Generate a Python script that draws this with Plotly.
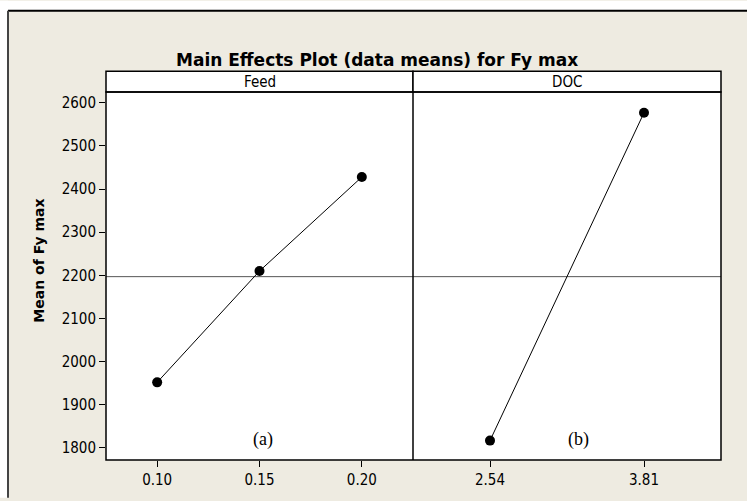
import plotly.graph_objects as go

# ---- data ----
feed_levels = ["0.10", "0.15", "0.20"]
feed_means = [1952, 2210, 2428]
doc_levels = ["2.54", "3.81"]
doc_means = [1817, 2577]
grand_mean = 2197
y_ticks = [1800, 1900, 2000, 2100, 2200, 2300, 2400, 2500, 2600]
panel_titles = ["Feed", "DOC"]
panel_tags = ["(a)", "(b)"]

W, H = 747, 501
L, R, T, B = 106, 721, 92, 463
pw, ph = R - L, B - T
split = 413
xs = (split - L) / pw

def px(x):
    return (x - L) / pw

def py(y):
    return (B - y) / ph

BG = "#EEEBE1"
FONT = "DejaVu Sans Condensed, Liberation Sans"

fig = go.Figure()
fig.add_trace(go.Scatter(
    x=list(range(len(feed_levels))), y=feed_means, mode="lines+markers",
    line=dict(color="black", width=1), marker=dict(color="black", size=10),
    xaxis="x", yaxis="y", showlegend=False))
fig.add_trace(go.Scatter(
    x=list(range(len(doc_levels))), y=doc_means, mode="lines+markers",
    line=dict(color="black", width=1), marker=dict(color="black", size=10),
    xaxis="x2", yaxis="y", showlegend=False))

axis_common = dict(showgrid=False, zeroline=False, showline=False,
                   ticks="outside", ticklen=6, tickcolor="black", tickwidth=1,
                   tickfont=dict(family=FONT, size=15, color="black"))
fig.update_layout(
    width=W, height=H,
    margin=dict(l=L, r=W - R, t=T, b=H - B, pad=0),
    paper_bgcolor=BG, plot_bgcolor="white",
    xaxis=dict(domain=[0, xs], range=[-0.5, len(feed_levels) - 0.5],
               tickvals=list(range(len(feed_levels))), ticktext=feed_levels,
               anchor="y", **axis_common),
    xaxis2=dict(domain=[xs, 1], range=[-0.5, len(doc_levels) - 0.5],
                tickvals=list(range(len(doc_levels))), ticktext=doc_levels,
                anchor="y", **axis_common),
    yaxis=dict(range=[1772, 2625], tickvals=y_ticks, anchor="x", **axis_common),
    showlegend=False,
)

shapes = []
# white strips outside outer frame
shapes.append(dict(type="rect", xref="paper", yref="paper", x0=px(0), x1=px(8),
                   y0=py(H), y1=py(0), fillcolor="white", line_width=0, layer="above"))
shapes.append(dict(type="rect", xref="paper", yref="paper", x0=px(0), x1=px(W),
                   y0=py(10), y1=py(0), fillcolor="white", line_width=0, layer="above"))
# outer frame lines
shapes.append(dict(type="line", xref="paper", yref="paper", x0=px(8), x1=px(W),
                   y0=py(10), y1=py(10), line=dict(color="black", width=2)))
shapes.append(dict(type="line", xref="paper", yref="paper", x0=px(8), x1=px(8),
                   y0=py(10), y1=py(H), line=dict(color="#444444", width=2)))
# header boxes
hdr_top = 71
for x0, x1 in [(L, split), (split, R)]:
    shapes.append(dict(type="rect", xref="paper", yref="paper", x0=px(x0), x1=px(x1),
                       y0=py(T), y1=py(hdr_top), fillcolor="white",
                       line=dict(color="black", width=1.5)))
# reference mean line
shapes.append(dict(type="line", xref="paper", yref="y", x0=0, x1=1,
                   y0=grand_mean, y1=grand_mean, line=dict(color="#555555", width=1),
                   layer="below"))
# plot frame and divider
shapes.append(dict(type="rect", xref="paper", yref="paper", x0=0, x1=1, y0=0, y1=1,
                   line=dict(color="black", width=1.5)))
shapes.append(dict(type="line", xref="paper", yref="paper", x0=xs, x1=xs, y0=0, y1=1,
                   line=dict(color="black", width=1.5)))
fig.update_layout(shapes=shapes)

ann = []
ann.append(dict(text="<b>Main Effects Plot (data means) for Fy max</b>", xref="paper", yref="paper",
                x=px(377), y=py(60), showarrow=False, xanchor="center", yanchor="middle",
                font=dict(family="DejaVu Sans", size=17, color="black")))
for title, x0, x1 in [(panel_titles[0], L, split), (panel_titles[1], split, R)]:
    ann.append(dict(text=title, xref="paper", yref="paper", x=px((x0 + x1) / 2),
                    y=py((hdr_top + T) / 2), showarrow=False, xanchor="center", yanchor="middle",
                    font=dict(family=FONT, size=15, color="black")))
ann.append(dict(text="<b>Mean of Fy max</b>", xref="paper", yref="paper", x=px(39), y=py(262),
                textangle=-90, showarrow=False, xanchor="center", yanchor="middle",
                font=dict(family="DejaVu Sans", size=14, color="black")))
for tag, xc in zip(panel_tags, [263, 578]):
    ann.append(dict(text=tag, xref="paper", yref="paper", x=px(xc), y=py(442),
                    showarrow=False, xanchor="center", yanchor="middle",
                    font=dict(family="Liberation Serif", size=18, color="black")))
fig.update_layout(annotations=ann)

fig.write_html("out.html")
